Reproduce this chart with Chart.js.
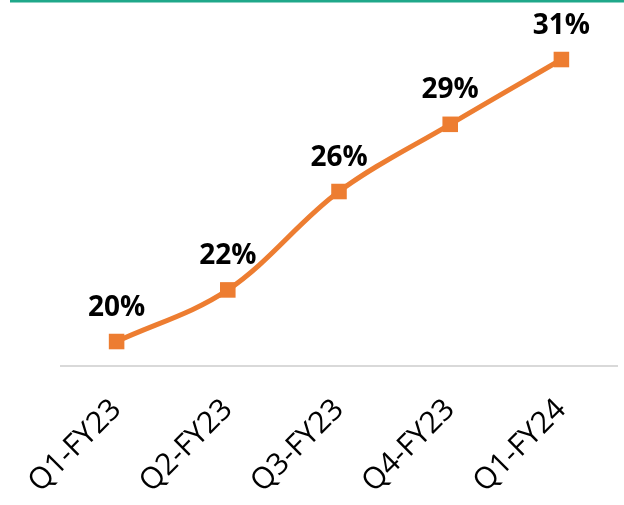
<!DOCTYPE html>
<html>
<head>
<meta charset="utf-8">
<script src="https://cdn.jsdelivr.net/npm/chart.js@4.4.1/dist/chart.umd.min.js"></script>
<style>
  html, body { margin: 0; padding: 0; background: #ffffff; }
  #wrap { width: 624px; height: 505px; position: relative; }
</style>
</head>
<body>
<div id="wrap"><canvas id="c"></canvas></div>
<script>
const categories = ['Q1-FY23', 'Q2-FY23', 'Q3-FY23', 'Q4-FY23', 'Q1-FY24'];
const shareValues = [19.6, 21.75, 25.85, 28.65, 31.35];
const pointLabels = ['20%', '22%', '26%', '29%', '31%'];

const ORANGE = '#ED7D31';

const topRule = {
  id: 'topRule',
  beforeDraw(chart) {
    const ctx = chart.ctx;
    ctx.save();
    ctx.strokeStyle = '#1FA88A';
    ctx.lineWidth = 3;
    ctx.beginPath();
    ctx.moveTo(10, 1);
    ctx.lineTo(chart.width, 1);
    ctx.stroke();
    ctx.restore();
  }
};

const valueLabels = {
  id: 'valueLabels',
  afterDatasetsDraw(chart) {
    const ctx = chart.ctx;
    const meta = chart.getDatasetMeta(0);
    ctx.save();
    ctx.fillStyle = '#000000';
    ctx.font = 'bold 28px "Open Sans", sans-serif';
    ctx.textAlign = 'center';
    ctx.textBaseline = 'alphabetic';
    meta.data.forEach((pt, i) => {
      ctx.fillText(pointLabels[i], pt.x, pt.y - 26);
    });
    ctx.restore();
  }
};

new Chart(document.getElementById('c'), {
  type: 'line',
  data: {
    labels: categories,
    datasets: [{
      data: shareValues,
      borderColor: ORANGE,
      backgroundColor: ORANGE,
      borderWidth: 5,
      tension: 0.35,
      pointStyle: 'rect',
      pointRadius: 11,
      pointBorderWidth: 0,
      pointHoverRadius: 11,
      clip: false
    }]
  },
  options: {
    responsive: true,
    maintainAspectRatio: false,
    animation: false,
    layout: { autoPadding: false, padding: { left: 61, right: 7, top: 0, bottom: 0 } },
    plugins: {
      legend: { display: false },
      tooltip: { enabled: false }
    },
    scales: {
      x: {
        offset: true,
        grid: { display: false, drawTicks: false },
        border: { display: true, color: '#D9D9D9', width: 2 },
        ticks: {
          autoSkip: false,
          minRotation: 45,
          maxRotation: 45,
          padding: 26,
          color: '#000000',
          font: { family: '"Open Sans", sans-serif', size: 30 }
        },
        afterFit(scale) {
          scale.height = 139;
          scale.paddingLeft = 0;
          scale.paddingRight = 0;
        }
      },
      y: {
        display: false,
        min: 18.58,
        max: 33.83
      }
    }
  },
  plugins: [topRule, valueLabels]
});
</script>
</body>
</html>
